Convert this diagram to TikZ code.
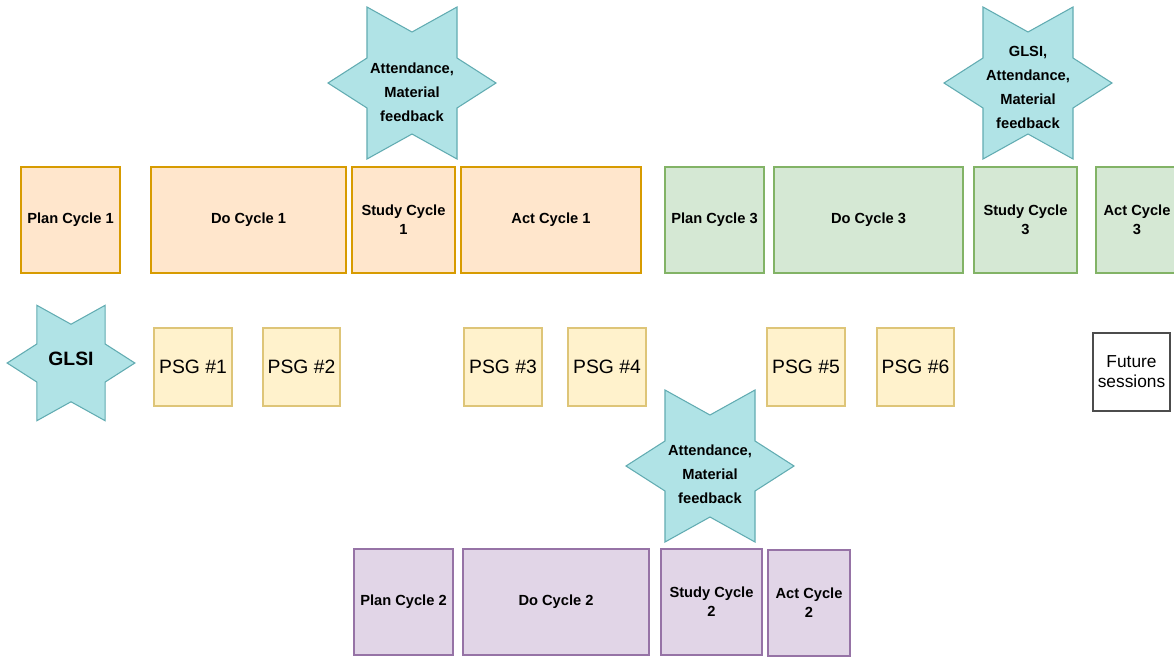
\documentclass[tikz,border=0pt]{standalone}
\usepackage{fontspec}
\setmainfont{Liberation Sans}
\definecolor{orF}{HTML}{FFE6CC}\definecolor{orD}{HTML}{D79B00}
\definecolor{grF}{HTML}{D5E8D4}\definecolor{grD}{HTML}{82B366}
\definecolor{puF}{HTML}{E1D5E7}\definecolor{puD}{HTML}{9673A6}
\definecolor{psF}{HTML}{FFF2CC}\definecolor{psD}{HTML}{D6B656}
\definecolor{stF}{HTML}{B0E3E6}\definecolor{stD}{HTML}{0E8088}
\newcommand\bx[7]{\node[#2, minimum width={(#5-#3)*0.75pt}, minimum height={(#6-#4)*0.75pt}] (#1) at ({(#3+#5)/2},{(#4+#6)/2}) {#7};}
\newcommand\hstar[4]{\begin{scope}[shift={(#2,#3)}, scale=#4]
\draw[starsty] (84,0) -- (45,-25) -- (45,-76) -- (0,-51) -- (-45,-76) -- (-45,-25) -- (-84,0) -- (-45,25) -- (-45,76) -- (0,51) -- (45,76) -- (45,25) -- cycle;
\coordinate (#1) at (0,0);
\end{scope}}
\tikzset{
  cyc/.style={draw, line width=1.2pt, inner sep=0pt, outer sep=0pt, align=center,
    font=\bfseries\fontsize{11}{14}\selectfont},
  orbox/.style={cyc, fill=orF, draw=orD},
  grbox/.style={cyc, fill=grF, draw=grD},
  pubox/.style={cyc, fill=puF, draw=puD},
  psgbox/.style={draw=psD!80, fill=psF, line width=0.8pt, inner sep=0pt, outer sep=0pt,
    font=\fontsize{14.5}{17}\selectfont},
  futbox/.style={draw=black!70, fill=white, line width=0.9pt, inner sep=0pt, outer sep=0pt, align=center,
    font=\fontsize{13}{15}\selectfont},
  starsty/.style={draw=stD!65, fill=stF, line width=0.8pt, line join=miter},
  startext/.style={align=center, inner sep=0pt, font=\bfseries\fontsize{11}{18}\selectfont},
}
\begin{document}
\begin{tikzpicture}[x=0.75pt, y=-0.75pt]
\clip (0,0) rectangle (1174,658);
\fill[white] (0,0) rectangle (1174,658);
% row 1
\bx{p1}{orbox}{21}{167}{120}{273}{Plan Cycle 1}
\bx{d1}{orbox}{151}{167}{346}{273}{Do Cycle 1}
\bx{s1}{orbox}{352}{167}{455}{273}{Study Cycle\\1}
\bx{a1}{orbox}{461}{167}{641}{273}{Act Cycle 1}
\bx{p3}{grbox}{665}{167}{764}{273}{Plan Cycle 3}
\bx{d3}{grbox}{774}{167}{963}{273}{Do Cycle 3}
\bx{s3}{grbox}{974}{167}{1077}{273}{Study Cycle\\3}
\bx{a3}{grbox}{1096}{167}{1178}{273}{Act Cycle\\3}
% row 2
\bx{g1}{psgbox}{154}{328}{232}{406}{PSG \#1}
\bx{g2}{psgbox}{263}{328}{340}{406}{PSG \#2}
\bx{g3}{psgbox}{464}{328}{542}{406}{PSG \#3}
\bx{g4}{psgbox}{568}{328}{646}{406}{PSG \#4}
\bx{g5}{psgbox}{767}{328}{845}{406}{PSG \#5}
\bx{g6}{psgbox}{877}{328}{954}{406}{PSG \#6}
\bx{fut}{futbox}{1093}{333}{1170}{411}{Future\\sessions}
% row 3
\bx{p2}{pubox}{354}{549}{453}{655}{Plan Cycle 2}
\bx{d2}{pubox}{463}{549}{649}{655}{Do Cycle 2}
\bx{s2}{pubox}{661}{549}{762}{655}{Study Cycle\\2}
\bx{a2}{pubox}{768}{550}{850}{656}{Act Cycle\\2}
% stars
\hstar{c1}{412}{83}{1}
\node[startext] (t1) at (412,92) {Attendance,\\Material\\feedback};
\hstar{c3}{1028}{83}{1}
\node[startext] (t3) at (1028,87) {GLSI,\\Attendance,\\Material\\feedback};
\hstar{c2}{710}{466}{1}
\node[startext] (t2) at (710,474) {Attendance,\\Material\\feedback};
\hstar{c0}{71}{363}{0.76}
\node[font=\bfseries\fontsize{14.5}{17}\selectfont, inner sep=0pt] (t0) at (71,359) {GLSI};
\end{tikzpicture}
\end{document}
